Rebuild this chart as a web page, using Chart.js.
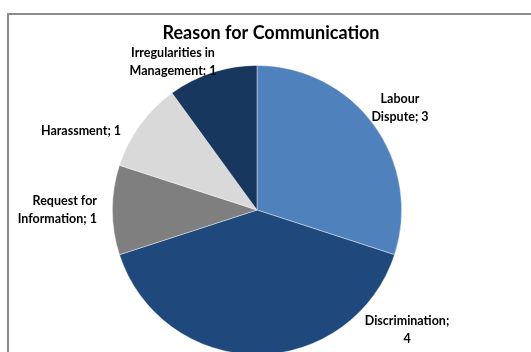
<!DOCTYPE html>
<html>
<head>
<meta charset="utf-8">
<script src="https://cdn.jsdelivr.net/npm/chart.js@4"></script>
<style>
  html, body { margin: 0; padding: 0; background: #fff; overflow: hidden; }
  #wrap { position: relative; width: 531px; height: 352px; overflow: hidden; }
  #frame {
    position: absolute; left: 7px; top: 13px; width: 540px; height: 360px;
    border-left: 2px solid #8c8c8c; border-top: 2px solid #8c8c8c;
    box-sizing: border-box;
  }
  canvas { position: absolute; left: 0; top: 0; }
</style>
</head>
<body>
<div id="wrap">
  <div id="frame"></div>
  <canvas id="pieChart" width="531" height="380"></canvas>
</div>
<script>
const categories = [
  "Labour Dispute",
  "Discrimination",
  "Request for Information",
  "Harassment",
  "Irregularities in Management",
];
const counts = [3, 4, 1, 1, 1];
const sliceColors = ["#4f81bd", "#1f497d", "#7f7f7f", "#d9d9d9", "#17375e"];

// label text split into lines, and where each label sits relative to the pie centre
const labelLines = [
  ["Labour", "Dispute; 3"],
  ["Discrimination;", "4"],
  ["Request for", "Information; 1"],
  ["Harassment; 1"],
  ["Irregularities in", "Management; 1"],
];
const labelPlace = [
  { dx: 143, dy: -102, align: "center" },
  { dx: 150, dy: 120, align: "center" },
  { dx: -160, dy: 0, align: "right" },
  { dx: -176, dy: -79, align: "center" },
  { dx: -84, dy: -148, align: "center" },
];

const labelFont = "bold 12.5px Lato, 'Liberation Sans', sans-serif";
const titleFont = "bold 18px Lato, 'Liberation Sans', sans-serif";

const pieLabels = {
  id: "pieLabels",
  afterDraw(chart) {
    const ctx = chart.ctx;
    ctx.save();
    ctx.fillStyle = "#000";
    ctx.textBaseline = "middle";

    ctx.font = titleFont;
    ctx.textAlign = "center";
    ctx.fillText("Reason for Communication", 271, 33);

    ctx.font = labelFont;
    const arcs = chart.getDatasetMeta(0).data;
    arcs.forEach((arc, i) => {
      const p = labelPlace[i];
      const lines = labelLines[i];
      const lh = 18;
      const y0 = arc.y + p.dy - ((lines.length - 1) * lh) / 2;
      ctx.textAlign = p.align;
      lines.forEach((t, k) => ctx.fillText(t, arc.x + p.dx, y0 + k * lh));
    });
    ctx.restore();
  },
};

new Chart(document.getElementById("pieChart"), {
  type: "pie",
  data: {
    labels: categories,
    datasets: [
      {
        data: counts,
        backgroundColor: sliceColors,
        borderColor: "rgba(255,255,255,0.55)",
        borderWidth: 0.75,
      },
    ],
  },
  options: {
    responsive: false,
    animation: false,
    layout: { padding: { left: 112, right: 129, top: 65, bottom: 25 } },
    plugins: {
      legend: { display: false },
      title: { display: false },
      tooltip: { enabled: false },
    },
  },
  plugins: [pieLabels],
});
</script>
</body>
</html>
